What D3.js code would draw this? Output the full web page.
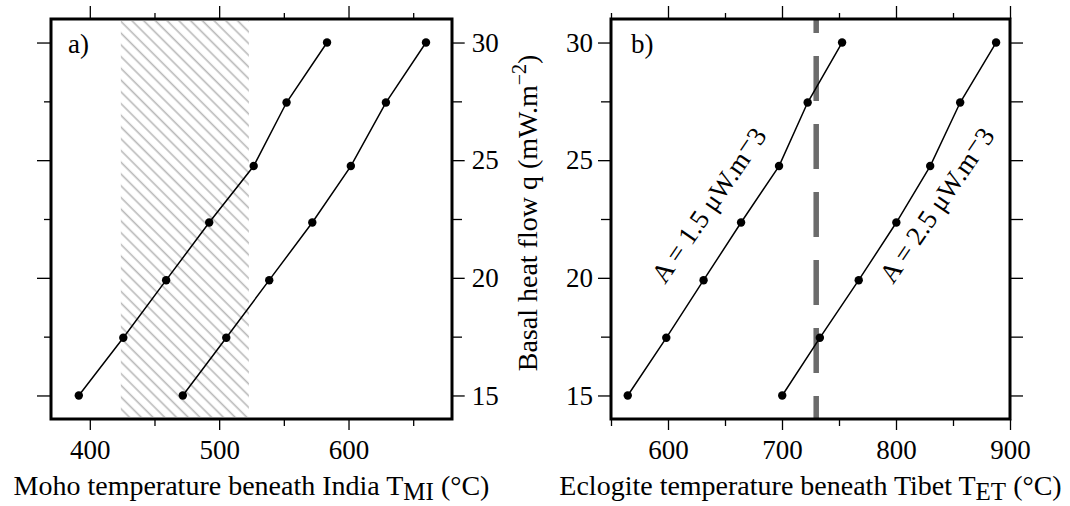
<!DOCTYPE html>
<html><head><meta charset="utf-8">
<script src="https://cdn.jsdelivr.net/npm/d3@7"></script>
<style>
body{margin:0;background:#fff}
svg{display:block}
svg text{font-family:"Liberation Serif",Tinos,"Times New Roman",Times,"DejaVu Serif",serif !important;fill:#000}
</style>
</head><body><svg id="c" width="1070" height="506"></svg>
<script>
// ---- data ----
const heatFlow = [15, 17.45, 19.9, 22.35, 24.75, 27.45, 30];
const mohoTempA15 = [391.5, 425.9, 459, 492.3, 526.7, 552.1, 583.4];
const mohoTempA25 = [471.9, 505.5, 538.7, 572, 601.8, 628.9, 659.9];
const eclogiteTempA15 = [564.7, 598.5, 631.2, 664.1, 697.4, 722.5, 752.7];
const eclogiteTempA25 = [700.2, 733.2, 767.3, 800.3, 830, 856.3, 887.8];
const hatchBand = [424, 523];
const dashedTemp = 730;
const xTicksA = [400, 450, 500, 550, 600, 650];
const xLabelsA = [400, 500, 600];
const xTicksB = [550, 600, 650, 700, 750, 800, 850, 900];
const xLabelsB = [600, 700, 800, 900];
const yTicks = [15, 17.5, 20, 22.5, 25, 27.5, 30];
const yLabels = [15, 20, 25, 30];
const curveLabels = ["A = 1.5 μW.m", "A = 2.5 μW.m"];
const panelTags = ["a)", "b)"];

const FONT = '"Liberation Serif", Tinos, "Times New Roman", Times, "DejaVu Serif", serif';
const svg = d3.select("#c");
const y = d3.scaleLinear([14, 31], [419, 19]);
const xA = d3.scaleLinear([370, 680], [51, 452]);
const xB = d3.scaleLinear([550, 900], [611, 1010]);

const defs = svg.append("defs");
const pat = defs.append("pattern").attr("id", "hatch").attr("patternUnits", "userSpaceOnUse")
  .attr("width", 8.3).attr("height", 20).attr("patternTransform", "rotate(-45)");
pat.append("line").attr("x1", 4).attr("x2", 4).attr("y1", -2).attr("y2", 22)
  .attr("stroke", "#b8b8b8").attr("stroke-width", 1.6);

function axes(g, x, xTicks, xLabels, opts) {
  const [xa, xb] = x.range(); const [yb, ya] = y.range();
  const fmt = d3.format("d");
  const style = sel => { sel.attr("font-family", FONT).attr("font-size", 27); sel.select(".domain").remove(); sel.selectAll("line").attr("stroke", "#000").attr("stroke-width", 1.3); sel.selectAll("text").attr("font-size", 27).style("font-family", FONT); };
  const minorX = xTicks.filter(v => !xLabels.includes(v));
  const minorY = yTicks.filter(v => !yLabels.includes(v));
  g.append("g").attr("transform", `translate(0,${ya})`).call(d3.axisTop(x).tickValues(xLabels).tickSize(13).tickFormat("")).call(style);
  g.append("g").attr("transform", `translate(0,${ya})`).call(d3.axisTop(x).tickValues(minorX).tickSize(6).tickFormat("")).call(style);
  g.append("g").attr("transform", `translate(0,${yb})`).call(d3.axisBottom(x).tickValues(xLabels).tickSize(11).tickPadding(10).tickFormat(fmt)).call(style);
  g.append("g").attr("transform", `translate(0,${yb})`).call(d3.axisBottom(x).tickValues(minorX).tickSize(7).tickFormat("")).call(style);
  g.append("g").attr("transform", `translate(${xa},0)`).call(d3.axisLeft(y).tickValues(yLabels).tickSize(opts.leftMajor).tickPadding(5).tickFormat(opts.leftLabels ? fmt : "")).call(style);
  g.append("g").attr("transform", `translate(${xa},0)`).call(d3.axisLeft(y).tickValues(minorY).tickSize(opts.leftMinor).tickFormat("")).call(style);
  g.append("g").attr("transform", `translate(${xb},0)`).call(d3.axisRight(y).tickValues(yLabels).tickSize(opts.rightMajor).tickPadding(7).tickFormat(opts.rightLabels ? fmt : "")).call(style);
  g.append("g").attr("transform", `translate(${xb},0)`).call(d3.axisRight(y).tickValues(minorY).tickSize(opts.rightMinor).tickFormat("")).call(style);
}

function series(g, x, temps) {
  const pts = temps.map((t, i) => [x(t), y(heatFlow[i])]);
  g.append("path").attr("d", d3.line()(pts)).attr("fill", "none").attr("stroke", "#000").attr("stroke-width", 1.5);
  g.selectAll(null).data(pts).join("circle").attr("cx", d => d[0]).attr("cy", d => d[1]).attr("r", 4.2).attr("fill", "#000");
}

function frame(g, x) {
  const [xa, xb] = x.range(); const [yb, ya] = y.range();
  g.append("rect").attr("x", xa).attr("y", ya).attr("width", xb - xa).attr("height", yb - ya)
    .attr("fill", "none").attr("stroke", "#000").attr("stroke-width", 3);
}

function txt(g) { return g.append("text").style("font-family", FONT); }

// ---- panel a ----
const gA = svg.append("g");
gA.append("rect").attr("x", xA(hatchBand[0])).attr("y", y(31) + 2).attr("width", xA(hatchBand[1]) - xA(hatchBand[0]))
  .attr("height", y(14) - y(31) - 4).attr("fill", "url(#hatch)");
series(gA, xA, mohoTempA15);
series(gA, xA, mohoTempA25);
axes(gA, xA, xTicksA, xLabelsA, {leftMajor: 14, leftMinor: 7, leftLabels: false, rightMajor: 12.7, rightMinor: 10, rightLabels: true});
frame(gA, xA);
txt(gA).attr("x", 68).attr("y", 53).attr("font-size", 27).text(panelTags[0]);
const tA = txt(gA).attr("x", (xA.range()[0] + xA.range()[1]) / 2).attr("y", 495).attr("text-anchor", "middle").attr("font-size", 28);
tA.append("tspan").text("Moho temperature beneath India T");
tA.append("tspan").attr("font-size", 25).attr("dy", 5).text("MI");
tA.append("tspan").attr("dy", -5).text(" (°C)");

const yt = txt(svg).attr("transform", "translate(537,213) rotate(-90)").attr("text-anchor", "middle").attr("font-size", 28);
yt.append("tspan").text("Basal heat flow q (mW.m");
yt.append("tspan").attr("font-size", 20).attr("dy", -11).text("−2");
yt.append("tspan").attr("dy", 11).text(")");

// ---- panel b ----
const gB = svg.append("g");
gB.append("line").attr("x1", xB(dashedTemp)).attr("x2", xB(dashedTemp)).attr("y1", y(31)).attr("y2", y(14))
  .attr("stroke", "#6b6b6b").attr("stroke-width", 5.5).attr("stroke-dasharray", "45,23").attr("stroke-dashoffset", 31);
series(gB, xB, eclogiteTempA15);
series(gB, xB, eclogiteTempA25);
axes(gB, xB, xTicksB, xLabelsB, {leftMajor: 13, leftMinor: 10, leftLabels: true, rightMajor: 13, rightMinor: 13, rightLabels: false});
frame(gB, xB);
txt(gB).attr("x", 631).attr("y", 53).attr("font-size", 27).text(panelTags[1]);
const tB = txt(gB).attr("x", (xB.range()[0] + xB.range()[1]) / 2).attr("y", 495).attr("text-anchor", "middle").attr("font-size", 28);
tB.append("tspan").text("Eclogite temperature beneath Tibet T");
tB.append("tspan").attr("font-size", 25).attr("dy", 5).text("ET");
tB.append("tspan").attr("dy", -5).text(" (°C)");

function curveLabel(g, px, py, label) {
  const t = txt(g).attr("transform", `translate(${px},${py}) rotate(-55.5)`).attr("font-size", 27);
  t.append("tspan").text(label);
  t.append("tspan").attr("dy", -5).text("−");
  t.append("tspan").attr("dy", 5).text("3");
}
curveLabel(gB, 665, 285, curveLabels[0]);
curveLabel(gB, 893, 285, curveLabels[1]);
</script>
</body></html>
